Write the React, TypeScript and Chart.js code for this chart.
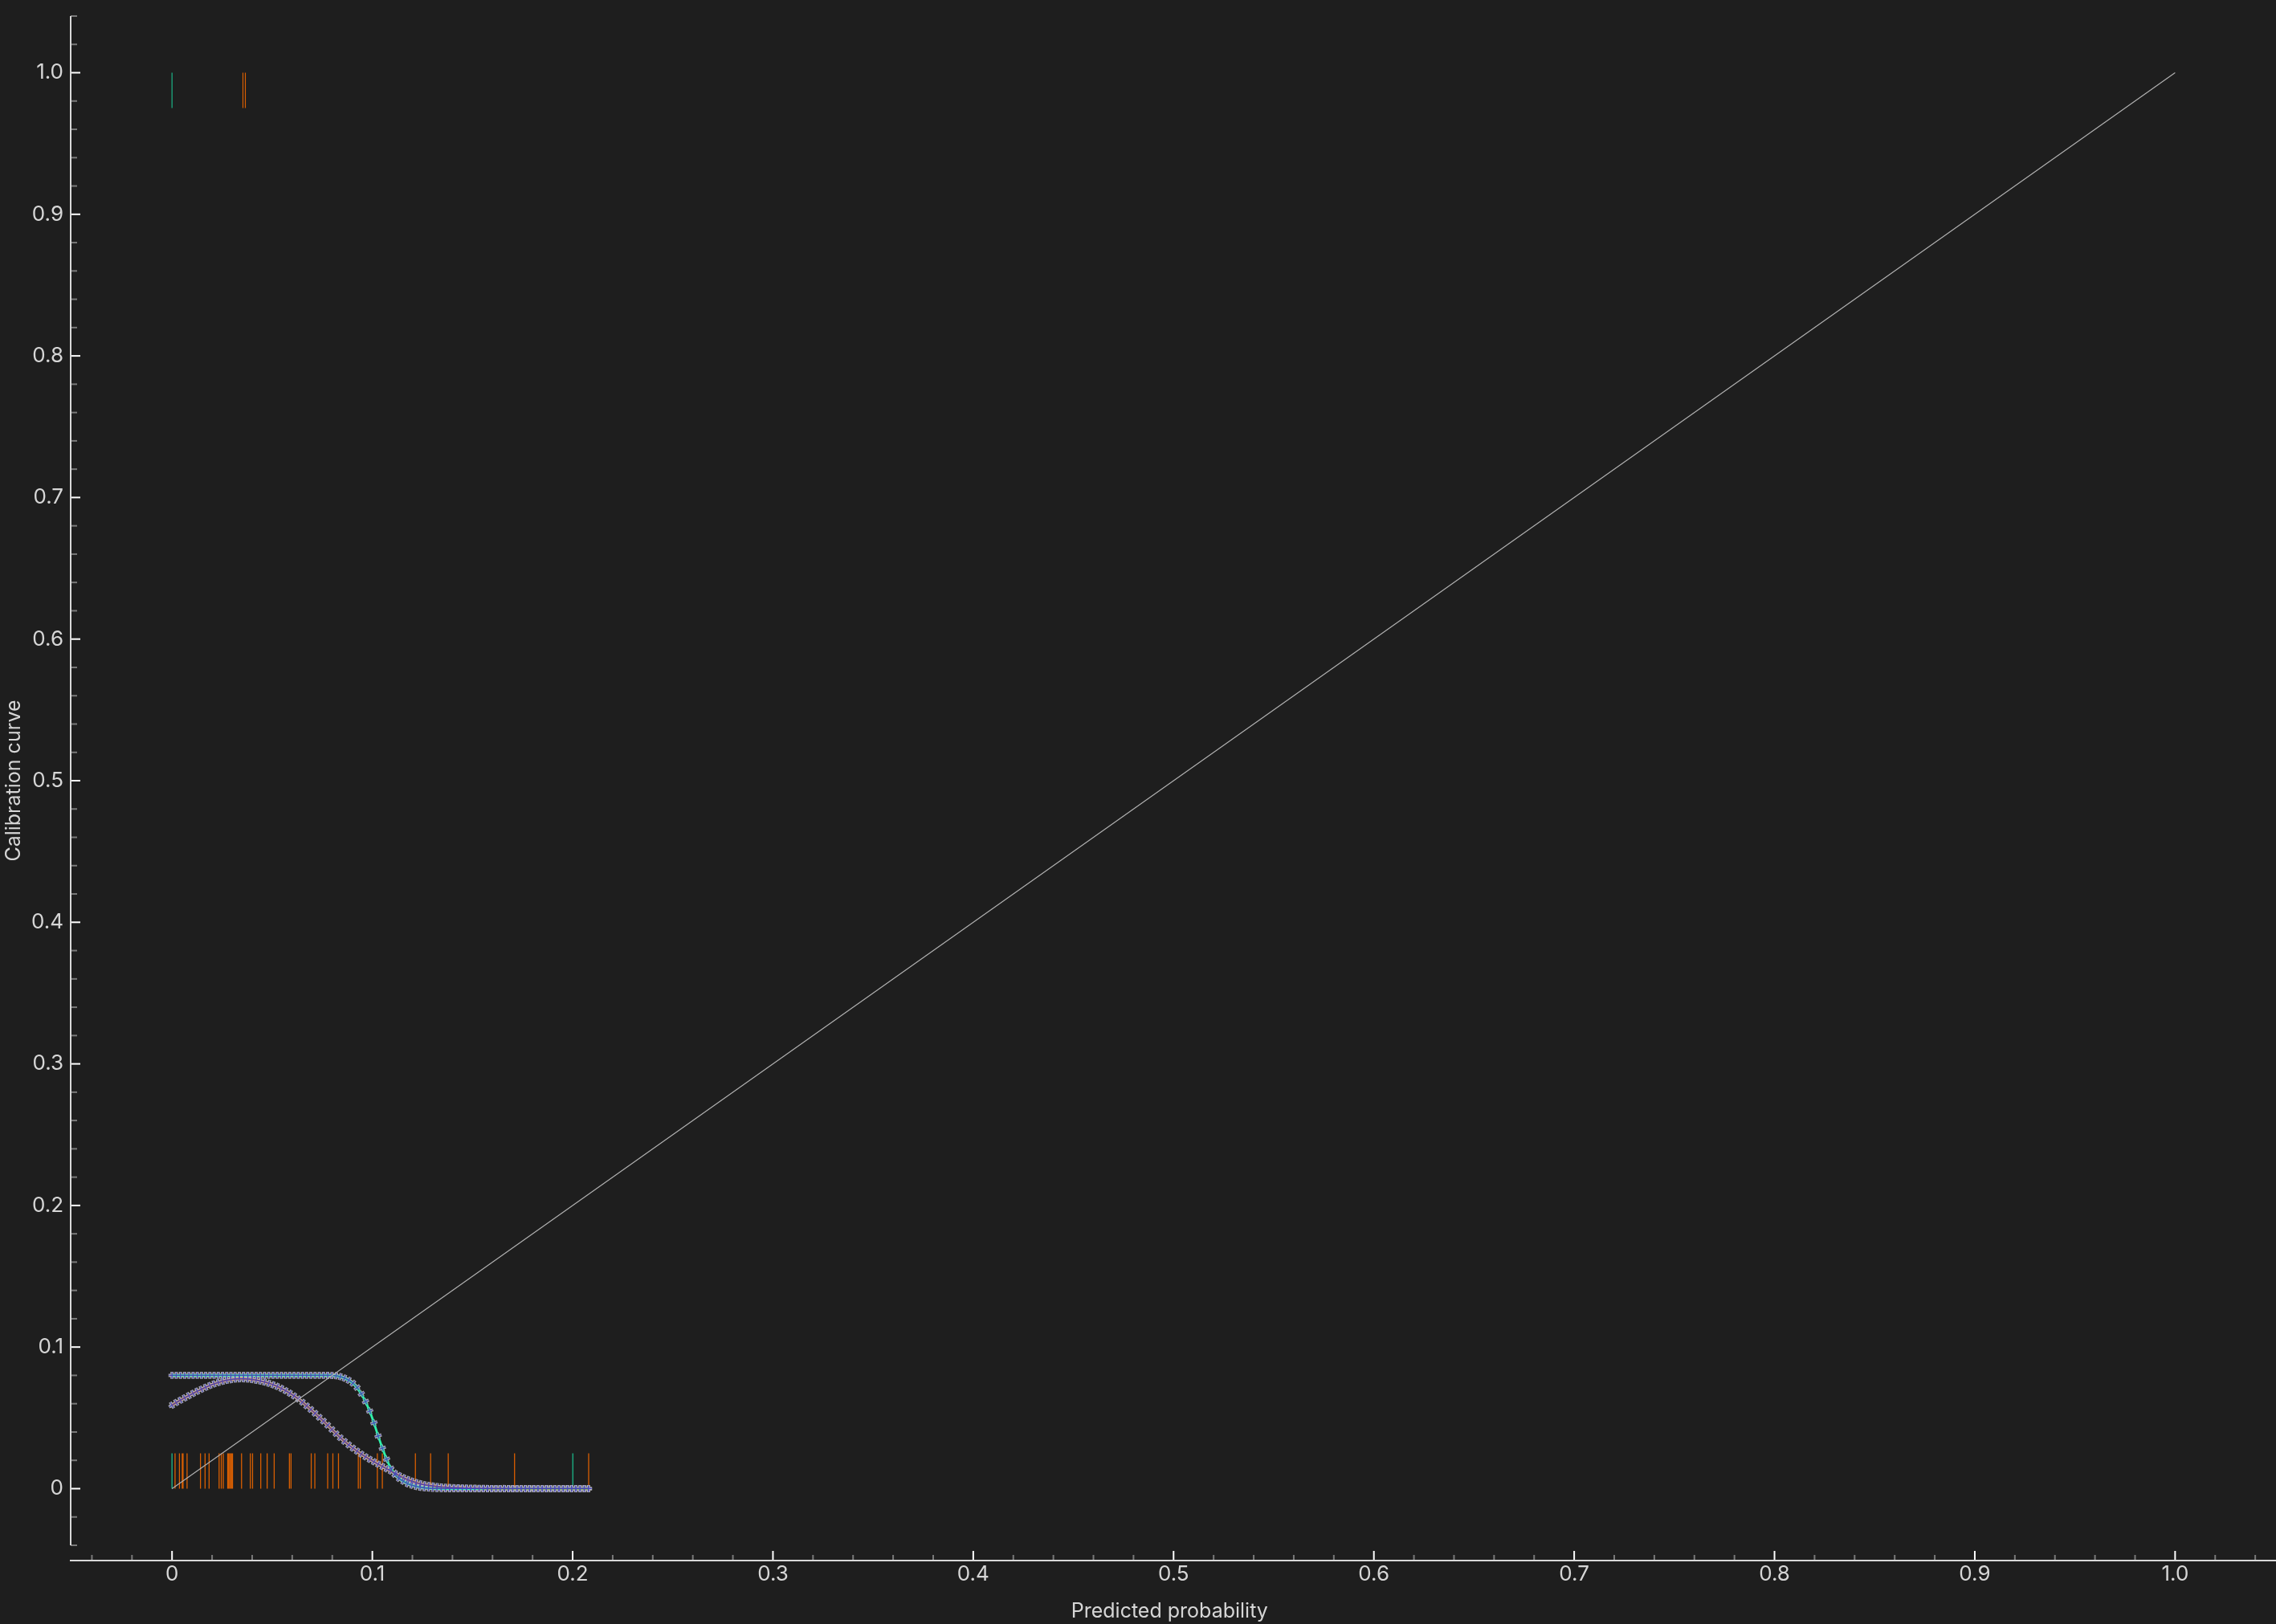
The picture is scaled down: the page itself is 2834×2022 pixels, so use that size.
import React, { useEffect, useRef } from "react";
import { Chart, registerables } from "chart.js";

Chart.register(...registerables);

// ---------------- data ----------------
const PRED_X = [
  0, 0.0021, 0.0042, 0.0063, 0.0084, 0.0105, 0.0126, 0.0147, 0.0168, 0.0189,
  0.021, 0.0231, 0.0252, 0.0273, 0.0294, 0.0315, 0.0336, 0.0357, 0.0378, 0.0399,
  0.042, 0.0441, 0.0462, 0.0483, 0.0504, 0.0525, 0.0546, 0.0567, 0.0588, 0.0609,
  0.063, 0.0651, 0.0672, 0.0693, 0.0714, 0.0735, 0.0756, 0.0777, 0.0798, 0.0819,
  0.084, 0.0861, 0.0882, 0.0903, 0.0924, 0.0945, 0.0966, 0.0987, 0.1008, 0.1029,
  0.105, 0.1071, 0.1092, 0.1113, 0.1134, 0.1155, 0.1176, 0.1197, 0.1218, 0.1239,
  0.126, 0.1281, 0.1302, 0.1323, 0.1344, 0.1365, 0.1386, 0.1407, 0.1428, 0.1449,
  0.147, 0.1491, 0.1512, 0.1533, 0.1554, 0.1575, 0.1596, 0.1617, 0.1638, 0.1659,
  0.168, 0.1701, 0.1722, 0.1743, 0.1764, 0.1785, 0.1806, 0.1827, 0.1848, 0.1869,
  0.189, 0.1911, 0.1932, 0.1953, 0.1974, 0.1995, 0.2016, 0.2037, 0.2058, 0.2079,
];

const GREEN_Y = [
  0.08, 0.08, 0.08, 0.08, 0.08, 0.08, 0.08, 0.08, 0.08, 0.08,
  0.08, 0.08, 0.08, 0.08, 0.08, 0.08, 0.08, 0.08, 0.08, 0.08,
  0.08, 0.08, 0.08, 0.08, 0.08, 0.08, 0.08, 0.08, 0.08, 0.08,
  0.08, 0.08, 0.08, 0.08, 0.08, 0.08, 0.08, 0.08, 0.08, 0.0797,
  0.0791, 0.0781, 0.0766, 0.0745, 0.0714, 0.067, 0.0615, 0.0548, 0.0465, 0.0372,
  0.0286, 0.0208, 0.0143, 0.01, 0.0072, 0.0052, 0.0035, 0.0024, 0.0016, 0.001,
  0.0006, 0.0004, 0.0002, 0.0001, 0, 0, 0, 0, 0, 0,
  0, 0, 0, 0, 0, 0, 0, 0, 0, 0,
  0, 0, 0, 0, 0, 0, 0, 0, 0, 0,
  0, 0, 0, 0, 0, 0, 0, 0, 0, 0,
];

const ORANGE_Y = [
  0.059, 0.0608, 0.0625, 0.0641, 0.0657, 0.0673, 0.0688, 0.0702, 0.0716, 0.0729,
  0.074, 0.075, 0.0758, 0.0765, 0.077, 0.0774, 0.0776, 0.0776, 0.0774, 0.0771,
  0.0766, 0.076, 0.0753, 0.0744, 0.0734, 0.0722, 0.0708, 0.0692, 0.0674, 0.0655,
  0.0634, 0.061, 0.0585, 0.0559, 0.0532, 0.0504, 0.0477, 0.0448, 0.0418, 0.0388,
  0.036, 0.0334, 0.0309, 0.0286, 0.0265, 0.0244, 0.0225, 0.0207, 0.019, 0.0173,
  0.0157, 0.0141, 0.0125, 0.0108, 0.0092, 0.0077, 0.0064, 0.0053, 0.0043, 0.0035,
  0.0028, 0.0023, 0.0019, 0.0015, 0.0012, 0.001, 0.0008, 0.0007, 0.0006, 0.0005,
  0.0004, 0.0003, 0.0003, 0.0002, 0.0002, 0.0001, 0.0001, 0.0001, 0.0001, 0.0001,
  0, 0, 0, 0, 0, 0, 0, 0, 0, 0,
  0, 0, 0, 0, 0, 0, 0, 0, 0, 0,
];

const DIAGONAL_X = [0, 1];
const DIAGONAL_Y = [0, 1];

// rug marks (predicted probabilities of samples)
const RUG_GREEN_LOW = [0, 0.2001];
const RUG_ORANGE_LOW = [
  0.0015, 0.0037, 0.0051, 0.0055, 0.0075, 0.0142, 0.0165, 0.0185, 0.0235, 0.0246,
  0.0256, 0.0278, 0.0282, 0.0288, 0.0292, 0.0298, 0.0302, 0.0347, 0.0391, 0.0402,
  0.0443, 0.0475, 0.051, 0.0586, 0.0594, 0.0695, 0.0713, 0.0777, 0.0803, 0.0831,
  0.093, 0.094, 0.1025, 0.105, 0.1215, 0.1291, 0.1379, 0.171, 0.208,
];
const RUG_GREEN_HIGH = [0];
const RUG_ORANGE_HIGH = [0.0354, 0.0366];
const RUG_LOW_SPAN = [0, 0.025];
const RUG_HIGH_SPAN = [0.975, 1.0];

const X_TICKS = [0, 0.1, 0.2, 0.3, 0.4, 0.5, 0.6, 0.7, 0.8, 0.9, 1.0];
const Y_TICKS = [0, 0.1, 0.2, 0.3, 0.4, 0.5, 0.6, 0.7, 0.8, 0.9, 1.0];
const X_TITLE = "Predicted probability";
const Y_TITLE = "Calibration curve";

// ---------------- style ----------------
const W = 2834;
const H = 2022;
const BG = "#1e1e1e";
const TEXT = "#d6d6d6";
const AXIS = "#d8d8d8";
const MINOR = "#7a7a7a";
const FONT = 'Inter, "Noto Sans", "DejaVu Sans", sans-serif';
const X_MIN = -0.051;
const X_MAX = 1.047;
const Y_MIN = -0.04;
const Y_MAX = 1.04;
const MINOR_STEP = 0.02;
const AXIS_GAP = 19;

const GREEN_LINE = "#2fefa8";
const ORANGE_LINE = "#e46c1a";
const RUG_GREEN = "#1b9e77";
const RUG_ORANGE = "#d95f02";
const MARK_GRAY = "rgba(186,186,196,0.88)";
const MARK_BLUE = "#4a4ab8";

function pts(xs: number[], ys: number[]) {
  return xs.map((x, i) => ({ x, y: ys[i] }));
}

function rug(xs: number[], span: number[]) {
  const out: any[] = [];
  xs.forEach((x) => {
    out.push({ x, y: span[0] }, { x, y: span[1] }, { x, y: null });
  });
  return out;
}

function tangent(ys: number[]) {
  return (ctx: any) => {
    const i = ctx.dataIndex;
    const sx = ctx.chart.scales?.x;
    const sy = ctx.chart.scales?.y;
    if (i === undefined || !sx || !sy) return 0;
    const a = Math.max(0, i - 1);
    const b = Math.min(PRED_X.length - 1, i + 1);
    const dx = sx.getPixelForValue(PRED_X[b]) - sx.getPixelForValue(PRED_X[a]);
    const dy = sy.getPixelForValue(ys[b]) - sy.getPixelForValue(ys[a]);
    return (Math.atan2(dy, dx) * 180) / Math.PI;
  };
}

function fmt(v: number) {
  return v === 0 ? "0" : v.toFixed(1);
}

const axesPlugin = {
  id: "customAxes",
  afterDraw(chart: any) {
    const { ctx } = chart;
    const sx = chart.scales.x;
    const sy = chart.scales.y;
    const yTop = sy.getPixelForValue(Y_MAX);
    const yBot = sy.getPixelForValue(Y_MIN);
    const axX = chart.chartArea.left + 1;
    const axY = yBot + AXIS_GAP;
    ctx.save();
    ctx.lineCap = "butt";
    // minor ticks
    ctx.strokeStyle = MINOR;
    ctx.lineWidth = 2;
    for (let k = -2; k <= 52; k++) {
      if (k % 5 === 0 && k >= 0 && k <= 50) continue;
      const v = k * MINOR_STEP;
      const px = sx.getPixelForValue(v);
      ctx.beginPath();
      ctx.moveTo(px, axY);
      ctx.lineTo(px, axY - 7);
      ctx.stroke();
      const py = sy.getPixelForValue(v);
      ctx.beginPath();
      ctx.moveTo(axX, py);
      ctx.lineTo(axX + 8, py);
      ctx.stroke();
    }
    // major ticks
    ctx.strokeStyle = "#ffffff";
    X_TICKS.forEach((v) => {
      const px = sx.getPixelForValue(v);
      ctx.beginPath();
      ctx.moveTo(px, axY);
      ctx.lineTo(px, axY - 12);
      ctx.stroke();
    });
    Y_TICKS.forEach((v) => {
      const py = sy.getPixelForValue(v);
      ctx.beginPath();
      ctx.moveTo(axX, py);
      ctx.lineTo(axX + 12, py);
      ctx.stroke();
    });
    // axis lines
    ctx.strokeStyle = AXIS;
    ctx.lineWidth = 2;
    ctx.beginPath();
    ctx.moveTo(axX, yTop);
    ctx.lineTo(axX, yBot);
    ctx.stroke();
    ctx.beginPath();
    ctx.moveTo(sx.getPixelForValue(X_MIN), axY);
    ctx.lineTo(chart.width, axY);
    ctx.stroke();
    ctx.restore();
  },
};

export default function App() {
  const ref = useRef<HTMLCanvasElement>(null);

  useEffect(() => {
    document.body.style.margin = "0";
    document.body.style.background = BG;
    const lineBase = { pointRadius: 0, pointHitRadius: 0, fill: false, tension: 0 };
    const markGray = {
      showLine: false,
      pointStyle: "cross",
      pointRadius: 4.4,
      pointBorderWidth: 4,
      pointBorderColor: MARK_GRAY,
      pointBackgroundColor: MARK_GRAY,
      borderColor: MARK_GRAY,
    };
    const markBlue = {
      showLine: false,
      pointStyle: "cross",
      pointRadius: 3.8,
      pointBorderWidth: 1.25,
      pointBorderColor: MARK_BLUE,
      pointBackgroundColor: MARK_BLUE,
      borderColor: MARK_BLUE,
    };
    const chart = new Chart(ref.current as HTMLCanvasElement, {
      type: "line",
      data: {
        datasets: [
          { ...lineBase, data: rug(RUG_ORANGE_LOW, RUG_LOW_SPAN), borderColor: RUG_ORANGE, borderWidth: 1.3, spanGaps: false, order: 7 },
          { ...lineBase, data: rug(RUG_ORANGE_HIGH, RUG_HIGH_SPAN), borderColor: RUG_ORANGE, borderWidth: 1.2, spanGaps: false, order: 7 },
          { ...lineBase, data: rug(RUG_GREEN_LOW, RUG_LOW_SPAN), borderColor: RUG_GREEN, borderWidth: 1.6, spanGaps: false, order: 7 },
          { ...lineBase, data: rug(RUG_GREEN_HIGH, RUG_HIGH_SPAN), borderColor: RUG_GREEN, borderWidth: 1.4, spanGaps: false, order: 7 },
          { ...markGray, data: pts(PRED_X, ORANGE_Y), pointRotation: tangent(ORANGE_Y), order: 6 },
          { ...markGray, data: pts(PRED_X, GREEN_Y), pointRotation: tangent(GREEN_Y), order: 6 },
          { ...lineBase, data: pts(PRED_X, ORANGE_Y), borderColor: ORANGE_LINE, borderWidth: 2.2, order: 5 },
          { ...lineBase, data: pts(PRED_X, GREEN_Y), borderColor: GREEN_LINE, borderWidth: 2.8, order: 5 },
          { ...markBlue, data: pts(PRED_X, ORANGE_Y), pointRotation: tangent(ORANGE_Y), order: 4 },
          { ...markBlue, data: pts(PRED_X, GREEN_Y), pointRotation: tangent(GREEN_Y), order: 4 },
          { ...lineBase, data: pts(DIAGONAL_X, DIAGONAL_Y), borderColor: "#b4b4b4", borderWidth: 1.1, order: 1 },
        ] as any,
      },
      options: {
        responsive: false,
        animation: false,
        devicePixelRatio: 1,
        events: [],
        layout: { padding: { top: 20, right: 2, left: 0, bottom: 0 } },
        plugins: { legend: { display: false }, tooltip: { enabled: false }, title: { display: false } },
        scales: {
          x: {
            type: "linear",
            min: X_MIN,
            max: X_MAX,
            afterBuildTicks: (s: any) => {
              s.ticks = X_TICKS.map((v) => ({ value: v }));
            },
            afterFit: (s: any) => {
              s.height = 98;
              s.paddingLeft = 0;
              s.paddingRight = 0;
            },
            grid: { display: false, drawTicks: false },
            border: { display: false },
            ticks: {
              autoSkip: false,
              maxRotation: 0,
              minRotation: 0,
              padding: 21,
              color: TEXT,
              font: { family: FONT, size: 26 },
              callback: (v: any) => fmt(Number(v)),
            },
            title: {
              display: true,
              text: X_TITLE,
              color: TEXT,
              font: { family: FONT, size: 25 },
              padding: { top: 0, bottom: 1 },
            },
          },
          y: {
            type: "linear",
            min: Y_MIN,
            max: Y_MAX,
            afterBuildTicks: (s: any) => {
              s.ticks = Y_TICKS.map((v) => ({ value: v }));
            },
            afterFit: (s: any) => {
              s.width = 87;
              s.paddingTop = 0;
              s.paddingBottom = 0;
            },
            grid: { display: false, drawTicks: false },
            border: { display: false },
            ticks: {
              autoSkip: false,
              padding: 8,
              color: TEXT,
              font: { family: FONT, size: 26 },
              callback: (v: any) => fmt(Number(v)),
            },
            title: {
              display: true,
              text: Y_TITLE,
              color: TEXT,
              font: { family: FONT, size: 25 },
              padding: { top: 2, bottom: 0 },
            },
          },
        },
      } as any,
      plugins: [axesPlugin],
    });
    return () => chart.destroy();
  }, []);

  return (
    <div style={{ position: "fixed", left: 0, top: 0, width: W, height: H, background: BG }}>
      <canvas ref={ref} width={W} height={H} style={{ display: "block", width: W, height: H }} />
    </div>
  );
}
